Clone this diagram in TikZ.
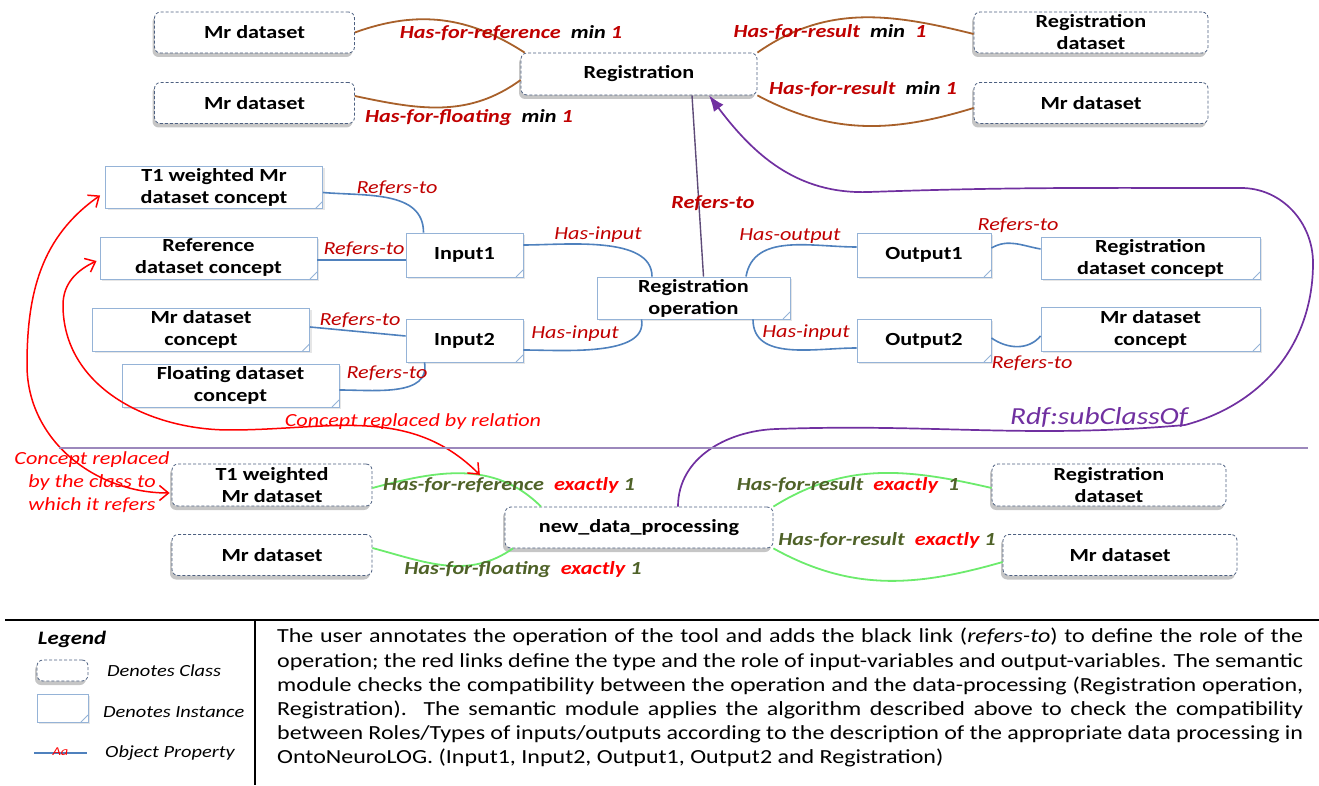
\documentclass[tikz,border=0pt]{standalone}
\usepackage{fontspec}
\setmainfont{Carlito}[FakeStretch=1.2]
\usetikzlibrary{arrows.meta,shadows}
\definecolor{classline}{HTML}{4D6081}
\definecolor{instline}{HTML}{95B3D7}
\definecolor{brownline}{HTML}{A8602A}
\definecolor{blueline}{HTML}{4F81BD}
\definecolor{greenline}{HTML}{6CEB6C}
\definecolor{purpleline}{HTML}{7030A0}
\definecolor{refline}{HTML}{5E4B78}
\definecolor{sepline}{HTML}{9C88BC}
\definecolor{lblred}{HTML}{C00000}
\definecolor{lblolive}{HTML}{4F6228}
\newcommand{\lblsize}{\fontsize{18.5}{22}\selectfont}

\begin{document}
\begin{tikzpicture}[x=1pt,y=1pt,
classbox/.style={draw=classline, densely dashed, line width=0.8pt, rounded corners=6pt, fill=white, align=center, inner sep=0pt, minimum width=200pt, minimum height=41pt, font=\lblsize\bfseries, drop shadow={shadow xshift=-2pt, shadow yshift=-4pt, opacity=0.45}},
instbox/.style={draw=instline, line width=0.9pt, fill=white, align=center, inner sep=0pt, minimum width=217pt, minimum height=42pt, font=\lblsize\bfseries, drop shadow={shadow xshift=2pt, shadow yshift=-2pt, opacity=0.2}, path picture={\draw[instline, line width=0.9pt] ([xshift=-7pt]path picture bounding box.south east) -- ([yshift=7pt]path picture bounding box.south east);}},
brownedge/.style={draw=brownline, line width=1.8pt},
blueedge/.style={draw=blueline, line width=1.6pt},
greenedge/.style={draw=greenline, line width=1.8pt},
refedge/.style={draw=refline, line width=1.4pt},
redarrow/.style={draw=red, line width=1.5pt, {Straight Barb[length=9pt,width=15pt]}-{Straight Barb[length=9pt,width=15pt]}},
purplearrow/.style={draw=purpleline, line width=1.7pt, -{Latex[length=16pt,width=12pt]}},
lbl/.style={inner sep=0pt, text=lblred, font=\lblsize\itshape},
boldlbl/.style={inner sep=0pt, text=lblred, font=\lblsize\bfseries\itshape},
greenlbl/.style={inner sep=0pt, text=lblolive, font=\lblsize\bfseries\itshape},
legtext/.style={anchor=west, inner sep=0pt, font=\fontsize{17}{20}\selectfont\itshape},
desctext/.style={anchor=north west, inner sep=0pt, text width=1026pt, align=justify, font=\fontsize{20}{24.2}\selectfont}
]
\useasboundingbox (0,0) rectangle (1319,785);

\node[classbox] (mrA) at (254.5,752.5) {Mr dataset};
\node[classbox] (mrB) at (254.5,682) {Mr dataset};
\node[classbox, minimum width=236pt, minimum height=42pt] (reg) at (639,711) {Registration};
\node[classbox, minimum width=234pt] (regds) at (1091,752.5) {Registration\\dataset};
\node[classbox, minimum width=234pt] (mrC) at (1091,682) {Mr dataset};

\node[instbox] (t1c) at (214,597.5) {T1 weighted Mr\\dataset concept};
\node[instbox] (refc) at (208.5,527) {Reference\\dataset concept};
\node[instbox, minimum height=43pt] (mrc) at (201,455.5) {Mr dataset\\concept};
\node[instbox, minimum height=43pt] (floc) at (230.5,399.5) {Floating dataset\\concept};
\node[instbox, minimum width=117pt, minimum height=44pt] (in1) at (464.5,530) {Input1};
\node[instbox, minimum width=117pt, minimum height=43pt] (in2) at (464.5,444.5) {Input2};
\node[instbox, minimum width=193pt] (regop) at (693.5,487) {Registration\\operation};
\node[instbox, minimum width=134pt, minimum height=44pt] (out1) at (924,530) {Output1};
\node[instbox, minimum width=134pt, minimum height=43pt] (out2) at (924,444.5) {Output2};
\node[instbox, minimum width=219pt] (regdsc) at (1150.5,527) {Registration\\dataset concept};
\node[instbox, minimum width=219pt, minimum height=44pt] (mrdsc) at (1150.5,456) {Mr dataset\\concept};

\node[classbox, minimum height=42pt] (t1w) at (272,300) {T1 weighted\\Mr dataset};
\node[classbox] (mrD) at (272,230) {Mr dataset};
\node[classbox, minimum width=268pt] (ndp) at (639,257.5) {new\_data\_processing};
\node[classbox, minimum width=234pt, minimum height=42pt] (regdsB) at (1109,300) {Registration\\dataset};
\node[classbox, minimum width=234pt] (mrE) at (1120,230) {Mr dataset};

\draw[brownedge] (mrA.east) to[out=20,in=147] ([xshift=4pt]reg.north west);
\draw[brownedge] ([yshift=7pt]mrB.east) to[out=-12,in=216] ([yshift=-6pt]reg.west);
\draw[brownedge] (reg.north east) to[out=35,in=166] ([yshift=-1.5pt]regds.west);
\draw[brownedge] (reg.south east) to[out=-28,in=197] ([yshift=-5pt]mrC.west);
\node[boldlbl] (lref) at (511,752) {Has-for-reference\ \ \textcolor{black}{min} 1};
\node[boldlbl] (lflo) at (469,667) {Has-for-floating\ \ \textcolor{black}{min} 1};
\node[boldlbl] (lres) at (830,753) {Has-for-result\ \ \textcolor{black}{min}\ \ 1};
\node[boldlbl] (lresb) at (863,696) {Has-for-result\ \ \textcolor{black}{min} 1};

\draw[blueedge] ([yshift=-5pt]t1c.east) to[out=-5,in=90] ([xshift=-41pt]in1.north);
\draw[blueedge] ([yshift=-2pt]refc.east) -- ([yshift=-5pt]in1.west);
\draw[blueedge] ([yshift=2.5pt]mrc.east) -- ([yshift=4.5pt]in2.west);
\draw[blueedge] ([yshift=-4.5pt]floc.east) to[out=0,in=-80] ([xshift=-40pt]in2.south);
\draw[blueedge] ([yshift=10pt]in1.east) to[out=0,in=90,looseness=0.8] ([xshift=-41.5pt]regop.north);
\draw[blueedge] ([yshift=-9.5pt]in2.east) to[out=0,in=-80,looseness=0.8] ([xshift=-52pt]regop.south);
\draw[blueedge] ([xshift=52.5pt]regop.north) to[out=80,in=180] ([yshift=8pt]out1.west);
\draw[blueedge] ([xshift=59.5pt]regop.south) to[out=-90,in=180] ([yshift=-7.5pt]out2.west);
\draw[blueedge] ([yshift=7pt]out1.east) to[out=30,in=170] ([yshift=9pt]regdsc.west);
\draw[blueedge] ([yshift=2.5pt]out2.east) to[out=-35,in=-130] ([yshift=-7pt]mrdsc.west);
\draw[refedge] ([xshift=10pt]regop.north) -- ([xshift=53pt]reg.south);
\node[lbl] (r1) at (397,597) {Refers-to};
\node[lbl] (r2) at (364,536) {Refers-to};
\node[lbl] (r3) at (360,465) {Refers-to};
\node[lbl] (r4) at (387,412) {Refers-to};
\node[lbl] (hin1) at (598,550) {Has-input};
\node[lbl] (hin2) at (575,451) {Has-input};
\node[lbl] (hout) at (790,549) {Has-output};
\node[lbl] (hin3) at (806,452) {Has-input};
\node[lbl] (r5) at (1018,560) {Refers-to};
\node[lbl] (r6) at (1032,422) {Refers-to};
\node[boldlbl] (rop) at (713,582) {Refers-to};

\draw[greenedge] ([yshift=-3pt]t1w.east) to[out=15,in=135] coordinate[pos=0.6] (hfr) ([xshift=-98pt]ndp.north);
\draw[greenedge] ([yshift=7pt]mrD.east) to[out=-15,in=-145] ([xshift=-126pt]ndp.south);
\draw[greenedge] (ndp.north east) to[out=32,in=167] ([yshift=-3pt]regdsB.west);
\draw[greenedge] (ndp.south east) to[out=-29,in=196] ([yshift=-7pt]mrE.west);
\node[greenlbl] (gref) at (509,300) {Has-for-reference\ \ \textcolor{red}{exactly} 1};
\node[greenlbl] (gflo) at (523,215) {Has-for-floating\ \ \textcolor{red}{exactly} 1};
\node[greenlbl] (gres) at (848,300) {Has-for-result\ \ \textcolor{red}{exactly}\ \ 1};
\node[greenlbl] (gresb) at (887,245) {Has-for-result\ \ \textcolor{red}{exactly} 1};

\coordinate (bendA) at (27,420);
\coordinate (bendB) at (63,480);
\coordinate (bendC) at (230,355);
\draw[redarrow] ([xshift=-5pt,yshift=-8pt]t1c.west) to[out=215,in=90] (bendA) to[out=-90,in=180] ([xshift=-2pt,yshift=-8pt]t1w.west);
\draw[redarrow] ([xshift=-3pt,yshift=-3pt]refc.west) to[out=205,in=90] (bendB) to[out=-90,in=180] (bendC) to[out=0,in=135] (hfr);
\node[lbl, text=red] (crel) at (413,363) {Concept replaced by relation};
\node[lbl, text=red, align=center, font=\fontsize{18.5}{23}\selectfont\itshape] (ccls) at (92,303) {Concept replaced\\by the class to\\which it refers};

\coordinate (subA) at (776,356);
\coordinate (subB) at (1185,360);
\coordinate (subC) at (1313,522);
\coordinate (subD) at (1241,597);
\coordinate (subE) at (869,593);
\draw[purplearrow] ([xshift=39pt]ndp.north) to[out=90,in=182] (subA) to[out=2,in=185] (subB) to[out=15,in=-90] (subC) to[out=90,in=0] (subD) to[out=180,in=2] (subE) to[out=182,in=-53] ([xshift=70pt]reg.south);
\node[lbl, text=purpleline, font=\fontsize{24.5}{28}\selectfont\itshape] (subcls) at (1099,368) {Rdf:subClassOf};

\draw[sepline, line width=1.5pt] (59,337) -- (1308,337);
\draw[line width=2.5pt] (5,165) -- (1319,165);
\draw[line width=2pt] (255,165) -- (255,0);

\node[inner sep=0pt, font=\fontsize{19}{22}\selectfont\bfseries\itshape] (leghead) at (72,146) {Legend};
\node[classbox, minimum width=51pt, minimum height=21pt] (legclass) at (62.5,114.5) {};
\node[legtext] (legclasst) at (107,114) {Denotes Class};
\node[instbox, minimum width=51pt, minimum height=28pt] (leginst) at (62.5,77) {};
\node[legtext] (leginstt) at (103,73) {Denotes Instance};
\coordinate (legpl) at (34,32);
\coordinate (legpr) at (87,32);
\draw[blueedge, line width=1.2pt] (legpl) -- (legpr);
\node[inner sep=0pt, text=red, font=\fontsize{12}{14}\selectfont\itshape] (legaa) at (60.5,33) {Aa};
\node[legtext] (legpropt) at (105,32) {Object Property};

\node[desctext] (desc) at (277,157) {The user annotates the operation of the tool and adds the black link (\textit{refers-to}) to define the role of the\linebreak
operation; the red links define the type and the role of input-variables and output-variables. The semantic\linebreak
module checks the compatibility between the operation and the data-processing (Registration operation,\linebreak
Registration). The semantic module applies the algorithm described above to check the compatibility\linebreak
between Roles/Types of inputs/outputs according to the description of the appropriate data processing in\linebreak
OntoNeuroLOG. (Input1, Input2, Output1, Output2 and Registration)};
\end{tikzpicture}
\end{document}
